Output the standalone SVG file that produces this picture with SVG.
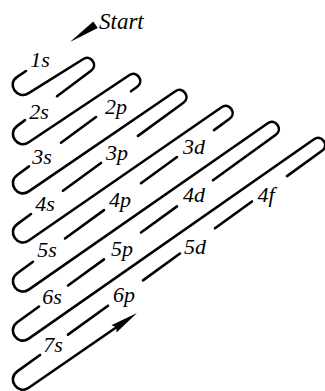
<svg xmlns="http://www.w3.org/2000/svg" width="325" height="391" viewBox="0 0 325 391">
<style>
.ln{fill:none;stroke:#000;stroke-width:2.6;stroke-linecap:round;stroke-linejoin:round}
.lb{font-family:"Liberation Serif","Times New Roman",serif;font-style:italic;font-size:22px;fill:#000;text-anchor:middle}
.hd{fill:#000;stroke:none}
</style>
<rect width="325" height="391" fill="#fff"/>
<g id="connectors">
<polygon class="hd" points="70,42 93.25,21.39 97.75,28.01"/>
<path class="ln" d="M26,71.04 L17.26,76.81 c-11.13,7.34 0.18,23.45 11.48,16.38 L82.98,59.27 c7.7,-5.27 15.58,5.96 8.04,11.46 L57,96.18"/>
<path class="ln" d="M25,120.12 L17.26,125.91 c-10.77,7.85 0.48,23.91 11.48,16.38 L129.18,75.27 c7.7,-5.27 15.58,5.96 8.04,11.46 L131,91.31"/>
<path class="ln" d="M96,117.06 L61,142.82"/>
<path class="ln" d="M29,166.37 L17.26,175.01 c-10.77,7.85 0.48,23.91 11.48,16.38 L175.38,91.27 c7.7,-5.27 15.58,5.96 8.04,11.46 L138,135.91"/>
<path class="ln" d="M101,162.94 L63,190.7"/>
<path class="ln" d="M31,214.07 L17.26,224.11 c-10.77,7.85 0.48,23.91 11.48,16.38 L221.58,107.27 c7.7,-5.27 15.58,5.96 8.04,11.46 L214,130.09"/>
<path class="ln" d="M177,157 L141,183.19"/>
<path class="ln" d="M104,210.11 L65,238.47"/>
<path class="ln" d="M33,261.75 L17.26,273.21 c-10.77,7.85 0.48,23.91 11.48,16.38 L267.78,123.27 c7.7,-5.27 15.58,5.96 8.04,11.46 L213,180.31"/>
<path class="ln" d="M177,206.42 L141,232.54"/>
<path class="ln" d="M104,259.38 L68,285.5"/>
<path class="ln" d="M39,306.54 L17.26,322.31 c-10.77,7.85 0.48,23.91 11.48,16.38 L313.98,139.27 c7.7,-5.27 15.58,5.96 8.04,11.46 L287,176.09"/>
<path class="ln" d="M252,201.43 L215,228.22"/>
<path class="ln" d="M180,253.57 L143,280.36"/>
<path class="ln" d="M108,305.7 L68,334.67"/>
<path class="ln" d="M40,354.94 L17.26,371.41 c-10.77,7.85 0.48,23.91 11.48,16.38 L116.43,327.21"/>
<polygon class="hd" points="137,313 111.4,325.22 116.43,327.21 116.52,332.62"/>
</g>
<g id="start"><text x="99" y="29" class="lb" style="text-anchor:start;font-size:23px">Start</text></g>
<g id="n1s"><text x="40" y="67" class="lb">1s</text></g>
<g id="n2s"><text x="39" y="119" class="lb">2s</text></g>
<g id="n2p"><text x="116" y="114" class="lb">2p</text></g>
<g id="n3s"><text x="42" y="164" class="lb">3s</text></g>
<g id="n3p"><text x="117" y="160" class="lb">3p</text></g>
<g id="n3d"><text x="194" y="154" class="lb">3d</text></g>
<g id="n4s"><text x="45" y="211" class="lb">4s</text></g>
<g id="n4p"><text x="120" y="207" class="lb">4p</text></g>
<g id="n4d"><text x="194" y="202" class="lb">4d</text></g>
<g id="n4f"><text x="266" y="202" class="lb">4f</text></g>
<g id="n5s"><text x="47" y="257" class="lb">5s</text></g>
<g id="n5p"><text x="122" y="256" class="lb">5p</text></g>
<g id="n5d"><text x="195" y="254" class="lb">5d</text></g>
<g id="n6s"><text x="52" y="304" class="lb">6s</text></g>
<g id="n6p"><text x="124" y="302" class="lb">6p</text></g>
<g id="n7s"><text x="53" y="352" class="lb">7s</text></g>
</svg>
